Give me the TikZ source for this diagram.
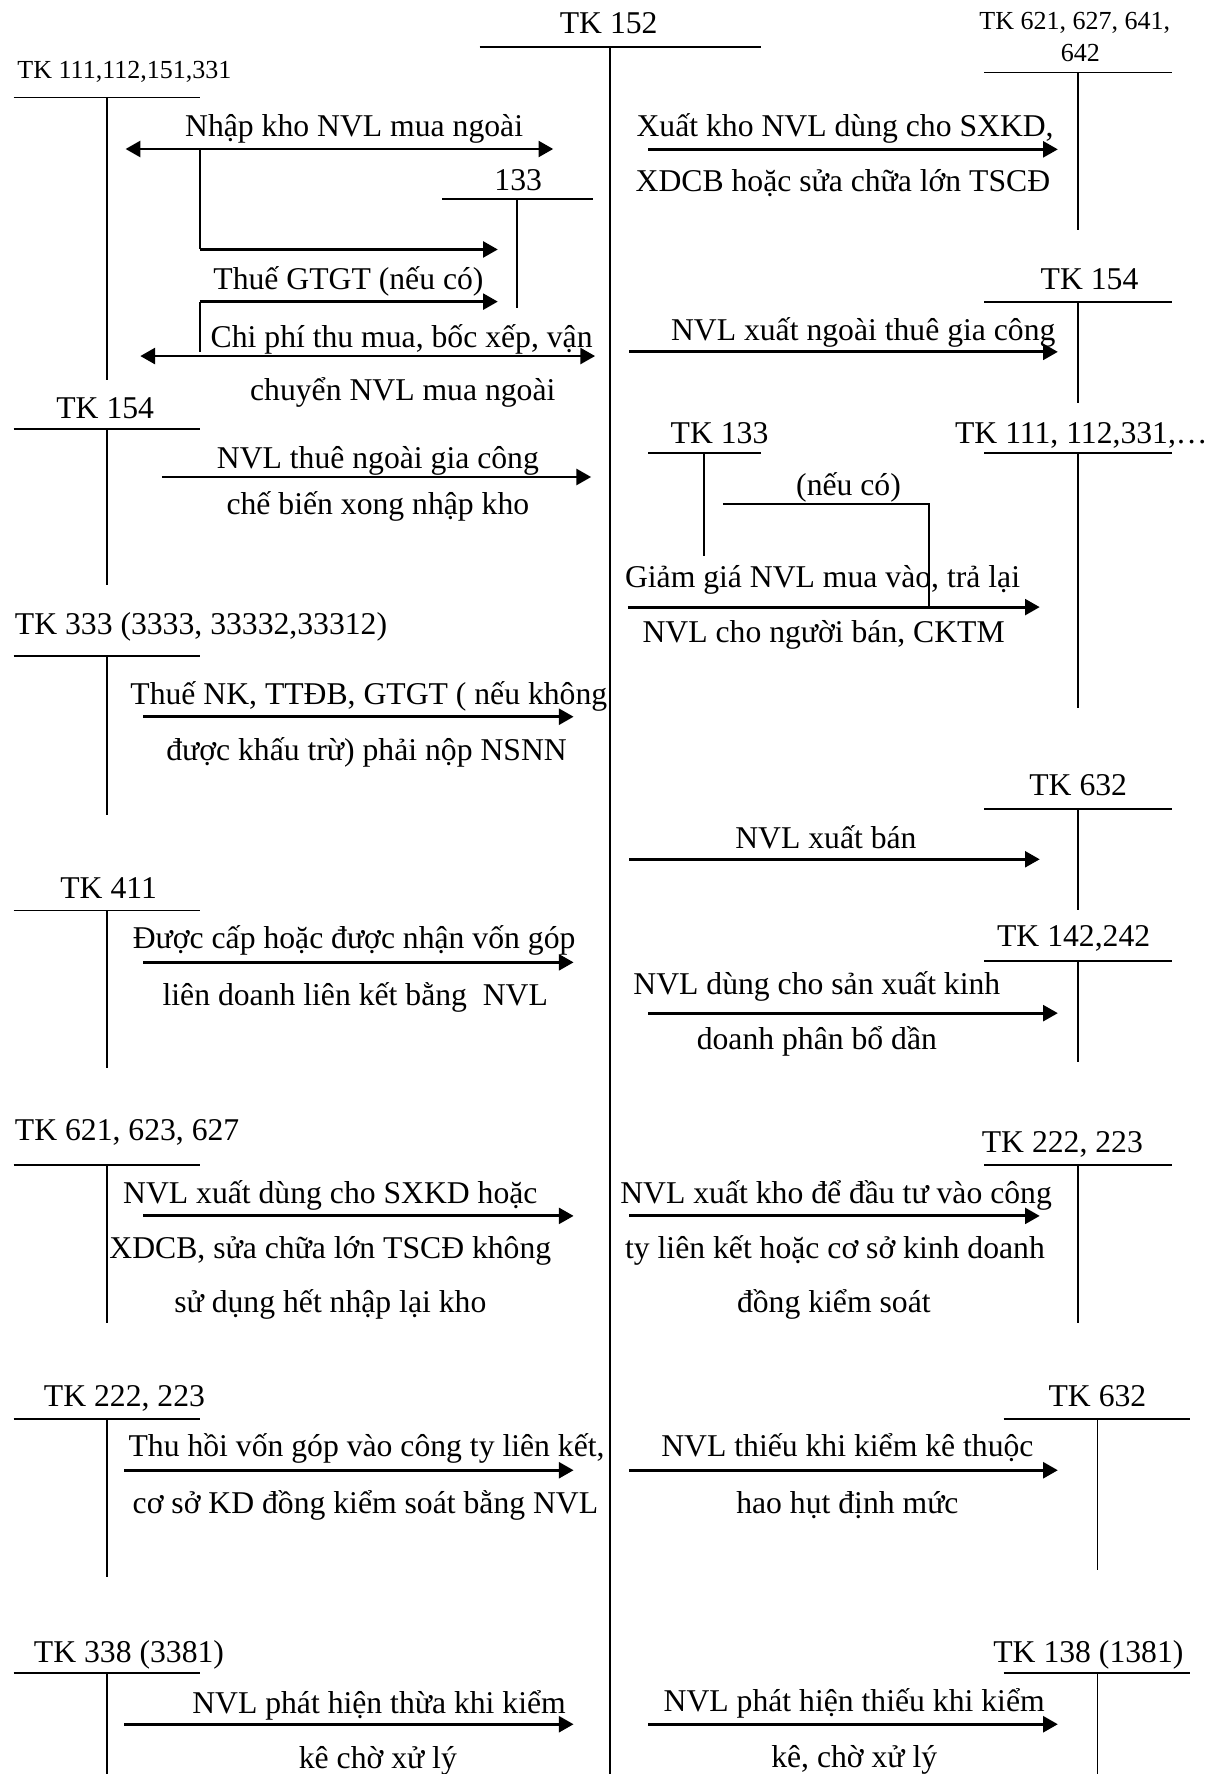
\documentclass[tikz,border=0pt]{standalone}
\usepackage{fontspec}
\setmainfont{Liberation Serif}
\usetikzlibrary{arrows.meta}
\newcommand\mtxt{\fontsize{28}{32}\selectfont}
\newcommand\stxt{\fontsize{23}{27}\selectfont}
\tikzset{
 thinl/.style={line width=1.5pt},
 arrl/.style={line width=2.5pt, -{Triangle[length=13pt,width=14pt]}},
 darrl/.style={line width=2.5pt, {Triangle[length=13pt,width=14pt]}-{Triangle[length=13pt,width=14pt]}},
 lbl/.style={font=\mtxt, inner sep=0pt, anchor=base},
 slbl/.style={font=\stxt, inner sep=0pt, anchor=base},
}
% T-account: name, x-left, x-right, x-vertical, y-line, y-bottom
\newcommand\tacc[6]{\coordinate (#1L) at (#2,#5); \coordinate (#1R) at (#3,#5);
 \coordinate (#1T) at (#4,#5); \coordinate (#1B) at (#4,#6);
 \draw[thinl] (#1L) -- (#1R); \draw[thinl] (#1T) -- (#1B);}
% flow: name, x-start, x-end, y, style
\newcommand\flow[5]{\coordinate (#1s) at (#2,#4); \coordinate (#1e) at (#3,#4); \draw[#5] (#1s) -- (#1e);}
\begin{document}
\begin{tikzpicture}[x=1pt,y=-1pt]
\fill[white] (0,0) rectangle (1082,1568);
\useasboundingbox (0,0) rectangle (1082,1568);

% ---- T-accounts ----
\tacc{k152}{424}{673}{539}{41.3}{1568}
\tacc{r1}{870}{1036}{953}{64}{203}
\tacc{l1}{12}{177}{94.3}{86.3}{336}
\tacc{c133a}{391}{524}{457}{176}{272.6}
\tacc{r2}{870}{1036}{953}{267}{356}
\tacc{l2}{12}{177}{94.3}{379}{517}
\tacc{c133b}{573}{673}{622}{400.5}{491}
\tacc{r3}{870}{1036}{953}{400.5}{626}
\tacc{l3}{12}{177}{94.3}{580}{720}
\tacc{r4}{870}{1036}{953}{714.8}{804.6}
\tacc{l4}{12}{177}{94.3}{804.7}{943.7}
\tacc{r5}{870}{1036}{953}{849.6}{939}
\tacc{l5}{12}{177}{94.3}{1030}{1169.6}
\tacc{r6}{870}{1036}{953}{1030}{1169.6}
\tacc{l6}{12}{177}{94.3}{1254.4}{1393.8}
\tacc{r7}{887}{1052}{970}{1254.4}{1388}
\tacc{l7}{12}{177}{94.3}{1478.7}{1568}
\tacc{r8}{887}{1052}{970}{1478.7}{1568}

% ---- account titles ----
\node[lbl] (t152) at (538,29.5) {TK 152};
\node[slbl] (tr1a) at (950,26.5) {TK 621, 627, 641,};
\node[slbl] (tr1b) at (955,54) {642};
\node[slbl] (tl1) at (110,69) {TK 111,112,151,331};
\node[lbl] (t133a) at (458,168) {133};
\node[lbl] (tr2) at (963,256) {TK 154};
\node[lbl] (tl2) at (93,370) {TK 154};
\node[lbl] (t133b) at (636,392) {TK 133};
\node[lbl,anchor=base west] (tr3) at (844,392) {TK 111, 112,331,…};
\node[lbl,anchor=base west] (tl3) at (13,561) {TK 333 (3333, 33332,33312)};
\node[lbl] (tr4) at (953,703) {TK 632};
\node[lbl] (tl4) at (96,794) {TK 411};
\node[lbl] (tr5) at (949,836.4) {TK 142,242};
\node[lbl,anchor=base west] (tl5) at (13,1008.4) {TK 621, 623, 627};
\node[lbl] (tr6) at (939,1019) {TK 222, 223};
\node[lbl] (tl6) at (110,1243.5) {TK 222, 223};
\node[lbl] (tr7) at (970,1243.5) {TK 632};
\node[lbl] (tl7) at (114,1469) {TK 338 (3381)};
\node[lbl] (tr8) at (962,1469) {TK 138 (1381)};

% ---- flows, left side ----
\flow{a1}{111}{489}{131.7}{darrl}
\coordinate (b1a) at (176.5,131.7);
\coordinate (b1b) at (176.5,220.5);
\coordinate (b1c) at (440,220.5);
\draw[thinl] (b1a) -- (b1b);
\draw[arrl] (b1b) -- (b1c);
\coordinate (b2a) at (176.5,311);
\coordinate (b2b) at (176.5,266.6);
\coordinate (b2c) at (440,266.6);
\draw[thinl] (b2a) -- (b2b);
\draw[arrl] (b2b) -- (b2c);
\flow{a4}{124}{526}{314.7}{darrl}
\flow{a7}{143}{522.5}{421.6}{arrl}
\flow{a9}{126.5}{507}{633.5}{arrl}
\flow{a11}{126.5}{507}{850.6}{arrl}
\flow{a13}{126.5}{507}{1074.7}{arrl}
\flow{a15}{110}{507}{1299.5}{arrl}
\flow{a17}{110}{507}{1524}{arrl}

% ---- flows, right side ----
\flow{a5}{573}{935}{132}{arrl}
\flow{a6}{556}{935}{311}{arrl}
\flow{a8}{555}{919}{536.6}{arrl}
\coordinate (k1) at (639,445.6);
\coordinate (k2) at (821,445.6);
\coordinate (k3) at (821,536.6);
\draw[thinl] (k1) -- (k2) -- (k3);
\flow{a10}{556}{919}{759.5}{arrl}
\flow{a12}{573}{935}{895.5}{arrl}
\flow{a14}{556}{919}{1074.7}{arrl}
\flow{a16}{556}{935}{1299.5}{arrl}
\flow{a18}{573}{935}{1524}{arrl}

% ---- labels, left side ----
\node[lbl] (n1) at (313,121) {Nhập kho NVL mua ngoài};
\node[lbl] (n2) at (308,256) {Thuế GTGT (nếu có)};
\node[lbl] (n3) at (355,307) {Chi phí thu mua, bốc xếp, vận};
\node[lbl] (n4) at (356,354) {chuyển NVL mua ngoài};
\node[lbl] (n5) at (334,414) {NVL thuê ngoài gia công};
\node[lbl] (n6) at (334,455) {chế biến xong nhập kho};
\node[lbl] (n7) at (326,623) {Thuế NK, TTĐB, GTGT ( nếu không};
\node[lbl] (n8) at (324,672) {được khấu trừ) phải nộp NSNN};
\node[lbl] (n9) at (313,838) {Được cấp hoặc được nhận vốn góp};
\node[lbl] (n10) at (314,888.6) {liên doanh liên kết bằng\ \ NVL};
\node[lbl] (n11) at (292,1063.5) {NVL xuất dùng cho SXKD hoặc};
\node[lbl] (n12) at (292,1112.6) {XDCB, sửa chữa lớn TSCĐ không};
\node[lbl] (n13) at (292,1160) {sử dụng hết nhập lại kho};
\node[lbl] (n14) at (324,1287.7) {Thu hồi vốn góp vào công ty liên kết,};
\node[lbl] (n15) at (323,1337.7) {cơ sở KD đồng kiểm soát bằng NVL};
\node[lbl] (n16) at (335,1514.6) {NVL phát hiện thừa khi kiểm};
\node[lbl] (n17) at (334,1563) {kê chờ xử lý};

% ---- labels, right side ----
\node[lbl] (m1) at (747,121) {Xuất kho NVL dùng cho SXKD,};
\node[lbl] (m2) at (745,169.5) {XDCB hoặc sửa chữa lớn TSCĐ};
\node[lbl] (m3) at (763,300.6) {NVL xuất ngoài thuê gia công};
\node[lbl] (m4) at (750,438) {(nếu có)};
\node[lbl] (m5) at (727,519) {Giảm giá NVL mua vào, trả lại};
\node[lbl] (m6) at (728,567.5) {NVL cho người bán, CKTM};
\node[lbl] (m7) at (730,749.7) {NVL xuất bán};
\node[lbl] (m8) at (722,878.7) {NVL dùng cho sản xuất kinh};
\node[lbl] (m9) at (722,928) {doanh phân bổ dần};
\node[lbl] (m10) at (739,1063.5) {NVL xuất kho để đầu tư vào công};
\node[lbl] (m11) at (738,1112.6) {ty liên kết hoặc cơ sở kinh doanh};
\node[lbl] (m12) at (737,1160) {đồng kiểm soát};
\node[lbl] (m13) at (749,1287.7) {NVL thiếu khi kiểm kê thuộc};
\node[lbl] (m14) at (749,1337.7) {hao hụt định mức};
\node[lbl] (m15) at (755,1513) {NVL phát hiện thiếu khi kiểm};
\node[lbl] (m16) at (755,1562) {kê, chờ xử lý};
\end{tikzpicture}
\end{document}
